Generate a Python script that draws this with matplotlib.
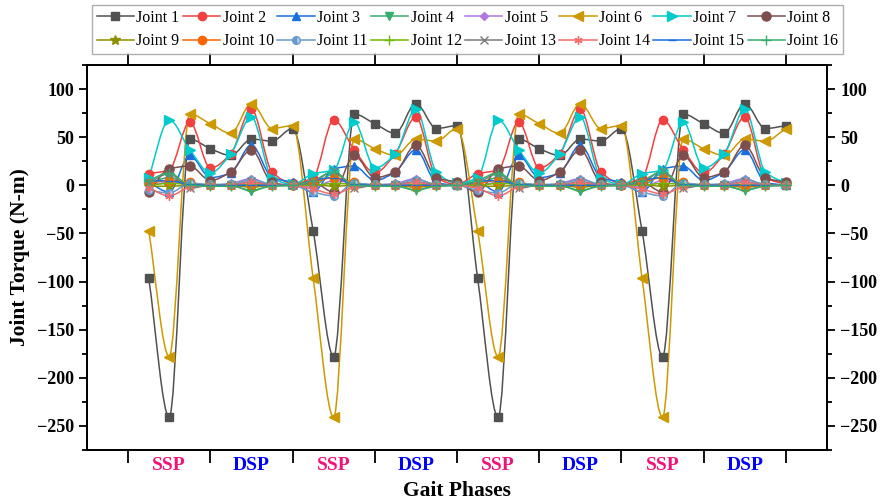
import matplotlib
matplotlib.use('Agg')
import matplotlib.pyplot as plt
from matplotlib.path import Path
from matplotlib.patches import PathPatch
from matplotlib.lines import Line2D
import numpy as np

plt.rcParams['font.family'] = ['Liberation Serif', 'DejaVu Serif']
plt.rcParams['font.weight'] = 'bold'

# sample index along the gait (4 samples per phase)
steps = list(range(1, 33))
phase_names = ['SSP', 'DSP', 'SSP', 'DSP', 'SSP', 'DSP', 'SSP', 'DSP']
phase_colors = ['#F0147A', '#0000FF'] * 4

j1 = [-96, -241, 48, 38, 31, 48, 46, 59, -47, -178, 74, 64, 54, 85, 59, 62,
      -96, -241, 48, 38, 31, 48, 46, 59, -47, -178, 74, 64, 54, 85, 59, 62]
j2 = [12, 16, 66, 18, 33, 79, 14, 2, 8, 68, 37, 13, 33, 71, 8, 1,
      12, 16, 66, 18, 33, 79, 14, 2, 8, 68, 37, 13, 33, 71, 8, 1]
j3 = [3, -7, 31, 8, 13, 42, 8, 3, -7, 17, 20, 5, 14, 37, 3, 0,
      3, -7, 31, 8, 13, 42, 8, 3, -7, 17, 20, 5, 14, 37, 3, 0]
j4 = [2, 8, 1, 0, 0, -6, 0, 0, 0, 12, 1, 0, 0, -5, 0, 0,
      2, 8, 1, 0, 0, -6, 0, 0, 0, 12, 1, 0, 0, -5, 0, 0]
j5 = [0, 3, 2, 0, 2, 7, 0, 0, -2, 5, 2, 0, 2, 7, 0, 0,
      0, 3, 2, 0, 2, 7, 0, 0, -2, 5, 2, 0, 2, 7, 0, 0]
j6 = [-47, -178, 74, 64, 54, 85, 59, 62, -96, -241, 48, 38, 31, 48, 46, 59,
      -47, -178, 74, 64, 54, 85, 59, 62, -96, -241, 48, 38, 31, 48, 46, 59]
j7 = [8, 68, 37, 13, 33, 71, 8, 1, 12, 16, 66, 18, 33, 79, 14, 2,
      8, 68, 37, 13, 33, 71, 8, 1, 12, 16, 66, 18, 33, 79, 14, 2]
j8 = [-7, 17, 20, 5, 14, 37, 3, 0, 3, -7, 31, 8, 14, 42, 8, 3,
      -7, 17, 20, 5, 14, 37, 3, 0, 3, -7, 31, 8, 14, 42, 8, 3]
j9 = [-1, -1, 0, 0, 0, -2, 0, 0, 1, -1, 0, 0, 0, -2, 0, 0,
      -1, -1, 0, 0, 0, -2, 0, 0, 1, -1, 0, 0, 0, -2, 0, 0]
j10 = [2, 5, 3, 0, 0, 0, 0, 0, 3, 8, 3, 0, 0, -1, 0, 0,
       2, 5, 3, 0, 0, 0, 0, 0, 3, 8, 3, 0, 0, -1, 0, 0]
j11 = [-5, -8, 2, 1, 1, 6, 1, 0, -7, -11, 2, 1, 1, 6, 1, 0,
       -5, -8, 2, 1, 1, 6, 1, 0, -7, -11, 2, 1, 1, 6, 1, 0]
j12 = [0, 2, 1, 0, 0, 1, 0, 0, 0, 2, 1, 0, 0, 1, 0, 0,
       0, 2, 1, 0, 0, 1, 0, 0, 0, 2, 1, 0, 0, 1, 0, 0]
j13 = [3, 12, -3, 0, 0, 4, 0, 0, 3, 15, -3, 0, 0, 4, 0, 0,
       3, 12, -3, 0, 0, 4, 0, 0, 3, 15, -3, 0, 0, 4, 0, 0]
j14 = [-3, -11, -2, 0, 0, 3, 0, 0, -4, -9, -2, 0, 0, 3, 0, 0,
       -3, -11, -2, 0, 0, 3, 0, 0, -4, -9, -2, 0, 0, 3, 0, 0]
j15 = [4, 5, 1, 0, 0, 0, 0, 0, 5, 8, 1, 0, 0, 0, 0, 0,
       4, 5, 1, 0, 0, 0, 0, 0, 5, 8, 1, 0, 0, 0, 0, 0]
j16 = [5, 13, 0, -1, -1, -5, -1, 0, 5, 14, 0, -1, -1, -5, -1, 0,
       5, 13, 0, -1, -1, -5, -1, 0, 5, 14, 0, -1, -1, -5, -1, 0]

joints = [j1, j2, j3, j4, j5, j6, j7, j8, j9, j10, j11, j12, j13, j14, j15, j16]
labels = ['Joint %d' % (i + 1) for i in range(16)]
colors = ['#515151', '#F14040', '#1A6FDF', '#37AD6B', '#B177DE', '#CC9900',
          '#00CBCC', '#7D4E4E', '#8E8E00', '#FB6501', '#6699CC', '#6FB802',
          '#7A7A7A', '#F66A6A', '#1A6FDF', '#37AD6B']
markers = ['s', 'o', '^', 'v', 'D', '<', '>', 'o', '*', 'o', 'o', '+',
           'x', (6, 2, 0), '_', '+']
msizes = [5.5, 6, 6, 6, 4.5, 6.5, 6.5, 6.5, 7, 6, 5.5, 7, 5.5, 6, 6, 7]


def smooth_path(x, y):
    # monotone (Fritsch-Carlson) tangents, drawn as cubic Bezier segments
    x = np.asarray(x, float)
    y = np.asarray(y, float)
    h = np.diff(x)
    d = np.diff(y) / h
    m = np.zeros_like(y)
    m[0], m[-1] = d[0], d[-1]
    for k in range(1, len(y) - 1):
        if d[k - 1] * d[k] > 0:
            m[k] = 2.0 / (1.0 / d[k - 1] + 1.0 / d[k])
    verts = [(x[0], y[0])]
    codes = [Path.MOVETO]
    for k in range(len(y) - 1):
        verts += [(x[k] + h[k] / 3, y[k] + m[k] * h[k] / 3),
                  (x[k + 1] - h[k] / 3, y[k + 1] - m[k + 1] * h[k] / 3),
                  (x[k + 1], y[k + 1])]
        codes += [Path.CURVE4] * 3
    return Path(verts, codes)


fig = plt.figure(figsize=(8.81, 5.04), dpi=100)
ax = fig.add_axes([87 / 881, 54 / 504, 740 / 881, 385 / 504])

handles = []
for k, vals in enumerate(joints):
    c = colors[k]
    ax.add_patch(PathPatch(smooth_path(steps, vals), fill=False,
                           edgecolor=c, lw=1.1, zorder=2 + k * 0.01))
    extra = {}
    if k == 10:
        extra = dict(fillstyle='left', markerfacecoloralt='#B8CDE6')
    ax.plot(steps, vals, ls='none', marker=markers[k], ms=msizes[k],
            color=c, mew=1.0, zorder=3 + k * 0.01, **extra)
    handles.append(Line2D([], [], color=c, lw=1.1, marker=markers[k],
                          ms=msizes[k], mew=1.0, **extra))

ax.set_xlim(-2, 34)
ax.set_ylim(-274, 125)

ax.set_xticks(range(0, 33, 4))
ax.set_xticklabels([])
ax.set_xticks(range(2, 33, 4), minor=True)
ax.set_xticklabels(phase_names, minor=True, fontsize=14, fontweight='bold')
for lbl, c in zip(ax.xaxis.get_minorticklabels(), phase_colors):
    lbl.set_color(c)
ax.tick_params(axis='x', which='major', direction='out', length=9, width=1.3,
               top=True)
ax.tick_params(axis='x', which='minor', length=0, pad=5)

fmt = matplotlib.ticker.FuncFormatter(
    lambda v, p: ('\u2212%d' % -v) if v < 0 else '%d' % v)
for a in (ax, ax2 := ax.twinx()):
    a.set_ylim(-274, 125)
    a.set_yticks(range(-250, 101, 50))
    a.set_yticks(range(-275, 126, 25), minor=True)
    a.tick_params(axis='y', which='major', direction='out', length=6,
                  width=1.3, labelsize=13)
    a.tick_params(axis='y', which='minor', direction='out', length=3.5,
                  width=1.3)
    a.yaxis.set_major_formatter(fmt)
    for lab in a.get_yticklabels():
        lab.set_fontweight('bold')
    for s in a.spines.values():
        s.set_linewidth(1.3)

ax.set_ylabel('Joint Torque (N-m)', fontsize=15.5, fontweight='bold',
              labelpad=5)
ax.set_xlabel('Gait Phases', fontsize=15.5, fontweight='bold', labelpad=5)

# legend filled row by row: Joint 1-8 on top, Joint 9-16 below
order = [i for pair in zip(range(8), range(8, 16)) for i in pair]
leg = fig.legend([handles[i] for i in order], [labels[i] for i in order],
                 ncol=8, loc='upper center',
                 bbox_to_anchor=(467.5 / 881, 0.996),
                 frameon=True, fancybox=False, edgecolor='#9A9A9A',
                 handlelength=2.35, handletextpad=0.15, columnspacing=0.2,
                 labelspacing=0.45, borderpad=0.3, borderaxespad=0.2,
                 prop={'weight': 'normal', 'size': 11.5})
leg.get_frame().set_linewidth(1.0)

fig.savefig('out.png', dpi=100)
